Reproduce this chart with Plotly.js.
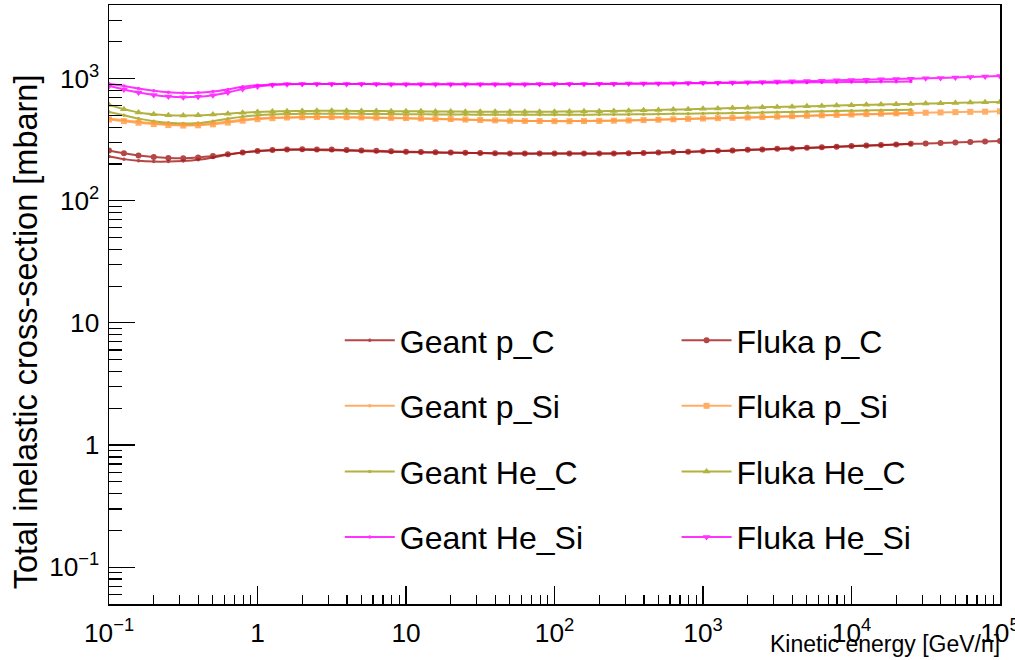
<!DOCTYPE html>
<html>
<head>
<meta charset="utf-8">
<script src="https://cdn.plot.ly/plotly-3.0.1.min.js"></script>
<style>html,body{margin:0;padding:0;background:#fff;}#chart{width:1015px;height:660px;}</style>
</head>
<body>
<div id="chart"></div>
<script>
// Kinetic energy grid [GeV/n]
var energy = [0.1, 0.126, 0.158, 0.2, 0.251, 0.316, 0.398, 0.501, 0.631, 0.794,
  1, 1.26, 1.58, 2, 2.51, 3.16, 3.98, 5.01, 6.31, 7.94,
  10, 12.6, 15.8, 20, 25.1, 31.6, 39.8, 50.1, 63.1, 79.4,
  100, 126, 158, 200, 251, 316, 398, 501, 631, 794,
  1000, 1260, 1580, 2000, 2510, 3160, 3980, 5010, 6310, 7940,
  10000, 12600, 15800, 20000, 25100, 31600, 39800, 50100, 63100, 79400, 100000];
var energyGeant = energy.slice(0, 55);

// Total inelastic cross-section [mbarn]
var flukaPC = [258, 245, 235, 228, 224, 223, 226, 232, 240, 248,
  255, 260, 263, 264, 263, 262, 260, 258, 256, 254,
  252, 250, 249, 248, 247, 246, 245, 244, 244, 243,
  243, 243, 243, 244, 244, 245, 246, 248, 250, 252,
  254, 256, 258, 261, 263, 266, 268, 271, 274, 277,
  280, 283, 286, 289, 292, 294, 297, 300, 303, 306, 308];
var geantPC = [230, 219, 212, 209, 209, 211, 216, 226, 238, 248,
  255, 259, 261, 261, 260, 259, 257, 255, 253, 251,
  250, 249, 248, 247, 246, 245, 244, 244, 243, 243,
  243, 243, 243, 243, 244, 245, 246, 247, 249, 251,
  253, 255, 257, 260, 262, 265, 267, 270, 273, 276,
  279, 282, 285, 288, 291];
var flukaPSi = [462, 448, 435, 424, 416, 412, 414, 422, 436, 452,
  465, 474, 480, 483, 484, 484, 483, 481, 479, 477,
  475, 472, 469, 466, 462, 458, 455, 452, 450, 449,
  448, 448, 449, 450, 452, 454, 457, 460, 464, 468,
  471, 474, 477, 480, 484, 488, 492, 496, 500, 504,
  508, 512, 516, 519, 522, 525, 528, 531, 534, 536, 539];
var geantPSi = [470, 456, 443, 431, 422, 417, 419, 429, 445, 460,
  470, 477, 481, 482, 482, 481, 480, 478, 476, 474,
  472, 469, 466, 463, 460, 457, 454, 452, 450, 449,
  449, 449, 450, 451, 453, 455, 458, 461, 464, 467,
  470, 473, 476, 479, 482, 486, 490, 494, 498, 502,
  506, 510, 513, 516, 519];
var flukaHeC = [608, 562, 528, 510, 501, 498, 500, 507, 516, 525,
  532, 537, 541, 543, 544, 544, 544, 543, 542, 541,
  540, 539, 538, 537, 536, 535, 535, 535, 535, 535,
  536, 537, 539, 541, 543, 546, 549, 553, 557, 561,
  565, 569, 573, 577, 581, 585, 589, 593, 597, 601,
  605, 609, 613, 617, 620, 624, 628, 632, 636, 639, 643];
var geantHeC = [532, 500, 470, 448, 434, 428, 432, 447, 468, 488,
  500, 508, 512, 514, 515, 515, 515, 514, 513, 512,
  511, 510, 509, 508, 507, 506, 506, 505, 505, 505,
  505, 505, 506, 507, 508, 509, 510, 512, 514, 516,
  518, 520, 522, 524, 527, 530, 533, 536, 539, 542,
  545, 548, 551, 553, 555];
var flukaHeSi = [870, 815, 770, 735, 712, 702, 708, 730, 770, 820,
  860, 885, 897, 902, 904, 904, 903, 902, 901, 900,
  899, 898, 898, 898, 898, 898, 899, 899, 900, 901,
  902, 903, 904, 905, 907, 909, 911, 913, 916, 919,
  922, 926, 930, 934, 939, 944, 949, 955, 961, 967,
  973, 979, 985, 991, 998, 1005, 1012, 1020, 1028, 1038, 1048];
var geantHeSi = [905, 868, 828, 795, 772, 762, 765, 782, 815, 855,
  882, 896, 902, 904, 904, 903, 902, 901, 900, 899,
  898, 897, 897, 897, 897, 897, 897, 898, 898, 899,
  900, 901, 902, 903, 904, 906, 908, 910, 912, 914,
  916, 918, 920, 922, 924, 926, 928, 930, 932, 934,
  936, 938, 940, 942, 944];

var names = ['Geant p_C', 'Fluka p_C', 'Geant p_Si', 'Fluka p_Si',
             'Geant He_C', 'Fluka He_C', 'Geant He_Si', 'Fluka He_Si'];
var colors = {pC: '#a31818', pSi: '#ff9a40', HeC: '#a0a010', HeSi: '#ff00ff'};

function geant(name, y, color) {
  return {x: energyGeant, y: y, name: name, type: 'scatter', mode: 'lines+markers',
    line: {color: color, width: 2, shape: 'spline'}, opacity: 0.8,
    marker: {color: color, size: 3.5, symbol: 'circle'},
    legend: 'legend', legendgroup: name};
}
function fluka(name, y, color, symbol, size) {
  return {x: energy, y: y, name: name, type: 'scatter', mode: 'lines+markers',
    line: {color: color, width: 2, shape: 'spline'}, opacity: 0.8,
    marker: {color: color, size: size, symbol: symbol},
    legend: 'legend2', legendgroup: name};
}

var data = [
  geant(names[0], geantPC, colors.pC),
  geant(names[2], geantPSi, colors.pSi),
  geant(names[4], geantHeC, colors.HeC),
  geant(names[6], geantHeSi, colors.HeSi),
  fluka(names[1], flukaPC, colors.pC, 'circle', 6),
  fluka(names[3], flukaPSi, colors.pSi, 'square', 6),
  fluka(names[5], flukaHeC, colors.HeC, 'triangle-up', 7),
  fluka(names[7], flukaHeSi, colors.HeSi, 'triangle-down', 7),
  // empty trace that carries the minor-tick overlay axes
  {x: [], y: [], xaxis: 'x2', yaxis: 'y2', type: 'scatter', mode: 'markers',
   showlegend: false, hoverinfo: 'skip'}
];

// minor tick positions 2..9 per decade
function minorTicks(d0, d1) {
  var v = [];
  for (var d = d0; d < d1; d++) {
    for (var k = 2; k <= 9; k++) v.push(k * Math.pow(10, d));
  }
  return v;
}

var font = 'Liberation Sans, Arial, Helvetica, sans-serif';
var legendCommon = {
  orientation: 'v', bgcolor: 'rgba(0,0,0,0)', borderwidth: 0,
  font: {family: font, size: 32, color: '#000'},
  tracegroupgap: 21, itemwidth: 50, itemsizing: 'trace',
  xanchor: 'left', yanchor: 'top', y: 0.486
};

var xRange = [-1.0002, 5.0002];
var yRange = [Math.log10(0.05), Math.log10(4000)];

var layout = {
  width: 1015, height: 660,
  margin: {l: 109, r: 15, t: 5, b: 56},
  paper_bgcolor: '#fff', plot_bgcolor: '#fff',
  font: {family: font, color: '#000'},
  showlegend: true,
  legend: Object.assign({}, legendCommon, {x: 0.259}),
  legend2: Object.assign({}, legendCommon, {x: 0.637}),
  xaxis: {
    type: 'log', range: xRange, dtick: 1,
    exponentformat: 'power', showgrid: false, zeroline: false,
    showline: true, linecolor: '#000', linewidth: 1.5, mirror: true,
    ticks: 'inside', ticklen: 18, tickwidth: 1.2, tickcolor: '#000',
    tickfont: {family: font, size: 21, color: '#000'},
    ticklabelstandoff: 6, ticklabeloverflow: 'allow'
  },
  yaxis: {
    type: 'log', range: yRange, dtick: 1,
    exponentformat: 'power', showgrid: false, zeroline: false,
    showline: true, linecolor: '#000', linewidth: 1.5, mirror: true,
    ticks: 'inside', ticklen: 26, tickwidth: 1.2, tickcolor: '#000',
    tickfont: {family: font, size: 21, color: '#000'},
    ticklabelstandoff: 4, ticklabeloverflow: 'allow'
  },
  xaxis2: {
    type: 'log', range: xRange, overlaying: 'x', anchor: 'y2', side: 'bottom',
    tickmode: 'array', tickvals: minorTicks(-1, 5), showticklabels: false,
    ticks: 'inside', ticklen: 9, tickwidth: 1.2, tickcolor: '#000',
    showgrid: false, zeroline: false, showline: false
  },
  yaxis2: {
    type: 'log', range: yRange, overlaying: 'y', anchor: 'x2', side: 'left',
    tickmode: 'array', tickvals: minorTicks(-2, 4), showticklabels: false,
    ticks: 'inside', ticklen: 13, tickwidth: 1.2, tickcolor: '#000',
    showgrid: false, zeroline: false, showline: false
  },
  annotations: [
    {text: 'Kinetic energy [GeV/n]', xref: 'paper', yref: 'paper', x: 1.002, y: -0.091,
     xanchor: 'right', yanchor: 'bottom', showarrow: false,
     font: {family: font, size: 23, color: '#000'}},
    {text: 'Total inelastic cross-section [mbarn]', xref: 'paper', yref: 'paper',
     x: -0.093, y: 0.887, xanchor: 'center', yanchor: 'top', textangle: -90, showarrow: false,
     font: {family: font, size: 32.5, color: '#000'}}
  ]
};

Plotly.newPlot('chart', data, layout, {displayModeBar: false, staticPlot: true});
</script>
</body>
</html>
